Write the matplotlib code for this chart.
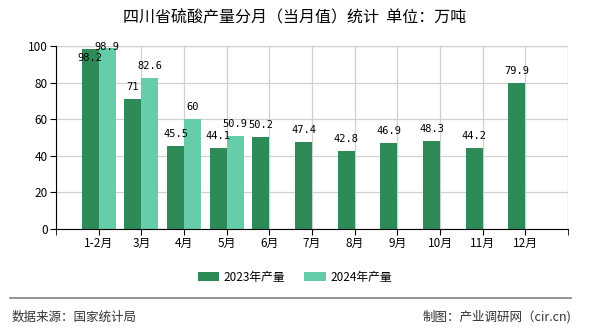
import numpy as np
import matplotlib.pyplot as plt

plt.rcParams['font.family'] = ['Noto Sans CJK SC', 'DejaVu Sans']

months = ['1-2月', '3月', '4月', '5月', '6月', '7月', '8月', '9月', '10月', '11月', '12月']
prod_2023 = [98.2, 71, 45.5, 44.1, 50.2, 47.4, 42.8, 46.9, 48.3, 44.2, 79.9]
prod_2024 = [98.9, 82.6, 60, 50.9]

c23 = '#2e8b57'
c24 = '#66cdaa'

fig = plt.figure(figsize=(5.9, 3.3), dpi=100)
ax = fig.add_axes([56/590, 1 - 229/330, 512/590, 183/330])

x = np.arange(1, len(months) + 1)
w = 0.4
ax.bar(x - w/2, prod_2023, w, color=c23, label='2023年产量', zorder=2)
ax.bar(x[:len(prod_2024)] + w/2, prod_2024, w, color=c24, label='2024年产量', zorder=2)

# value labels, kept inside the plot and pushed apart when they collide
lab_font = dict(family='DejaVu Sans Mono', fontsize=7.5, ha='center', va='center', zorder=3)
top24 = {}
for i, v in enumerate(prod_2024):
    y = min(v + 6.5, 99.5)
    top24[i] = y
    ax.text(x[i] + w/2, y, f'{v:g}', **lab_font)
for i, v in enumerate(prod_2023):
    y = min(v + 6.5, 99.5)
    if i in top24 and abs(top24[i] - y) < 6:
        y = top24[i] - 6
    ax.text(x[i] - w/2, y, f'{v:g}', **lab_font)

ax.set_xlim(0, 12)
ax.set_ylim(0, 100)
ax.set_xticks(x)
ax.set_xticklabels(months, fontsize=8.5)
ax.set_xticks(np.arange(0, 13), minor=True)
ax.set_yticks(np.arange(0, 101, 20))
ax.tick_params(axis='y', labelsize=8.5, length=4, direction='out', pad=2)
ax.tick_params(axis='x', which='both', length=4, direction='out', pad=2)
ax.grid(True, which='major', axis='both', color='#d0d0d0', lw=0.9, zorder=0)
ax.grid(True, which='minor', axis='x', color='#d0d0d0', lw=0.9, zorder=0)
for s in ['top', 'right']:
    ax.spines[s].set_visible(False)
ax.spines['left'].set_color('black')
ax.spines['bottom'].set_color('black')
ax.axhline(100, color='#d0d0d0', lw=0.9, zorder=0)
ax.axvline(12, color='#d0d0d0', lw=0.9, zorder=0)

fig.text(0.5, 1 - 18/330, '四川省硫酸产量分月（当月值）统计  单位：万吨',
         ha='center', va='center', fontsize=11.5)

fig.legend(loc='center', bbox_to_anchor=(0.5, 1 - 277/330), ncol=2, frameon=False,
           fontsize=8.5, handlelength=1.8, handleheight=0.7, columnspacing=1.6,
           handletextpad=0.4)

fig.add_artist(plt.Line2D([10/590, 571/590], [1 - 298/330] * 2, color='#808080', lw=1.2))
fig.text(12/590, 1 - 317/330, '数据来源：国家统计局', ha='left', va='center',
         fontsize=9, color='#333333')
fig.text(571/590, 1 - 317/330, '制图：产业调研网（cir.cn)', ha='right', va='center',
         fontsize=9, color='#333333')

fig.savefig('out.png', dpi=100)
